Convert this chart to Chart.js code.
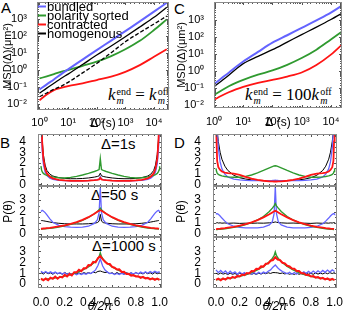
<!DOCTYPE html>
<html>
<head>
<meta charset="utf-8">
<script src="https://cdn.jsdelivr.net/npm/chart.js@4.4.1/dist/chart.umd.min.js"></script>
<style>
body { margin: 0; background: #fff; }
#fig { position: relative; width: 344px; height: 313px; overflow: hidden; font-family: "Liberation Sans", Arial, sans-serif; }
#fig canvas { position: absolute; }
.lab { position: absolute; font-size: 15px; line-height: 1; }
.dl { position: absolute; font-size: 15px; line-height: 1; white-space: nowrap; }
.k { position: absolute; font-family: "Liberation Serif", "DejaVu Serif", serif; font-size: 17px; line-height: 1; white-space: nowrap; }
.ss { display: inline-flex; flex-direction: column; font-size: 10px; line-height: 9px; vertical-align: 5px; margin-left: 1px; }
</style>
</head>
<body>
<div id="fig">
  <div class="lab" style="left:1px;top:0px">A</div>
  <div class="lab" style="left:174px;top:1px">C</div>
  <div class="lab" style="left:0px;top:135px">B</div>
  <div class="lab" style="left:174px;top:135px">D</div>
  <div class="dl" style="left:101px;top:136px">Δ=1s</div>
  <div class="dl" style="left:91px;top:187px">Δ=50 s</div>
  <div class="dl" style="left:92px;top:238px">Δ=1000 s</div>
  <div class="k" style="left:108px;top:86px"><i>k</i><span class="ss"><span>end</span><i>m</i></span> = <i>k</i><span class="ss"><span>off</span><i>m</i></span></div>
  <div class="k" style="left:245px;top:86px"><i>k</i><span class="ss"><span>end</span><i>m</i></span> = 100<i>k</i><span class="ss"><span>off</span><i>m</i></span></div>
</div>
<script>
// ---- MSD panels (A: k_end = k_off, C: k_end = 100 k_off) ----
let tau = [1, 1.8, 3.2, 5.6, 10, 32, 100, 320, 1000, 3200, 10000, 28000]
let bundledA = [0.072, 0.145, 0.28, 0.56, 1.1, 4.1, 15, 54, 195, 720, 2700, 9100]
let sortedA = [0.32, 0.43, 0.58, 0.79, 1.0, 1.78, 3.1, 6.6, 16.6, 52, 224, 955]
let contractedA = [0.017, 0.037, 0.066, 0.089, 0.115, 0.166, 0.26, 0.41, 0.79, 1.95, 6.0, 16.6]
let homogA = [0.043, 0.087, 0.166, 0.32, 0.58, 2.1, 7.6, 26, 91, 340, 1260, 4900]
let homogDashA = [0.027, 0.045, 0.074, 0.11, 0.19, 0.68, 2.45, 10.5, 46, 160, 510, 1500]

let bundledC = [0.166, 0.37, 0.79, 1.7, 3.6, 13.2, 46, 126, 347, 955, 2700, 8300]
let sortedC = [0.039, 0.071, 0.126, 0.2, 0.3, 0.6, 1.07, 2.3, 5.75, 17.8, 71, 250]
let contractedC = [0.02, 0.035, 0.056, 0.083, 0.117, 0.2, 0.3, 0.47, 0.81, 2.24, 9.1, 45]
let homogC = [0.117, 0.26, 0.56, 1.26, 2.7, 7.2, 17.8, 50, 138, 380, 1070, 2900]

let legendNames = ["bundled", "polarity sorted", "contracted", "homogenous"]

// ---- angle distributions P(theta) ----
let theta = [0, 0.005, 0.01, 0.02, 0.035, 0.05, 0.075, 0.1, 0.15, 0.2, 0.25, 0.3, 0.35, 0.4, 0.45, 0.475, 0.49, 0.5,
             0.51, 0.525, 0.55, 0.6, 0.65, 0.7, 0.75, 0.8, 0.85, 0.9, 0.925, 0.95, 0.965, 0.98, 0.99, 0.995, 1]
let thetaN = [0, 0.02, 0.04, 0.06, 0.08, 0.1, 0.12, 0.14, 0.16, 0.18, 0.2, 0.22, 0.24, 0.26, 0.28, 0.3, 0.32, 0.34, 0.36, 0.38,
              0.4, 0.42, 0.44, 0.46, 0.48, 0.5, 0.52, 0.54, 0.56, 0.58, 0.6, 0.62, 0.64, 0.66, 0.68, 0.7, 0.72, 0.74, 0.76, 0.78,
              0.8, 0.82, 0.84, 0.86, 0.88, 0.9, 0.92, 0.94, 0.96, 0.98, 1]
let thetaTicks = [0, 0.05, 0.1, 0.15, 0.2, 0.25, 0.3, 0.35, 0.4, 0.45, 0.5, 0.55, 0.6, 0.65, 0.7, 0.75, 0.8, 0.85, 0.9, 0.95, 1]
let pTicks = [0, 0.5, 1, 1.5, 2, 2.5, 3, 3.5, 4]

// B, delta = 1 s
let b1Bundled = [6, 4.6, 3.2, 1.9, 1.15, 0.82, 0.58, 0.47, 0.38, 0.35, 0.33, 0.33, 0.34, 0.36, 0.4, 0.44, 0.5, 0.72, 0.5, 0.44, 0.4, 0.36, 0.34, 0.33, 0.33, 0.35, 0.38, 0.47, 0.58, 0.82, 1.15, 1.9, 3.2, 4.6, 6]
let b1Homog = [6, 5.2, 4.2, 2.8, 1.8, 1.3, 0.95, 0.78, 0.63, 0.56, 0.53, 0.53, 0.55, 0.6, 0.68, 0.74, 0.8, 1.05, 0.8, 0.74, 0.68, 0.6, 0.55, 0.53, 0.53, 0.56, 0.63, 0.78, 0.95, 1.3, 1.8, 2.8, 4.2, 5.2, 6]
let b1Contracted = [6, 5.5, 4.0, 2.4, 1.45, 1.02, 0.72, 0.56, 0.43, 0.37, 0.34, 0.33, 0.33, 0.35, 0.39, 0.43, 0.47, 0.6, 0.47, 0.43, 0.39, 0.35, 0.33, 0.33, 0.34, 0.37, 0.43, 0.56, 0.72, 1.02, 1.45, 2.4, 4.0, 5.5, 6]
let b1Sorted = [1.7, 1.35, 1.18, 1.02, 0.92, 0.85, 0.76, 0.7, 0.62, 0.6, 0.65, 0.75, 0.88, 1.03, 1.2, 1.3, 1.38, 2.4, 1.38, 1.3, 1.2, 1.03, 0.88, 0.75, 0.65, 0.6, 0.62, 0.7, 0.76, 0.85, 0.92, 1.02, 1.18, 1.35, 1.7]
// B, delta = 50 s
let b2Bundled = [2.0, 2.05, 2.1, 2.05, 1.9, 1.7, 1.35, 1.05, 0.78, 0.66, 0.62, 0.6, 0.62, 0.7, 0.95, 1.25, 1.9, 4.1, 1.9, 1.25, 0.95, 0.7, 0.62, 0.6, 0.62, 0.66, 0.78, 1.05, 1.35, 1.7, 1.9, 2.05, 2.1, 2.05, 2.0]
let b2Homog = [1.2, 1.2, 1.2, 1.18, 1.15, 1.12, 1.07, 1.02, 0.96, 0.92, 0.9, 0.9, 0.9, 0.92, 0.97, 1.02, 1.15, 1.75, 1.15, 1.02, 0.97, 0.92, 0.9, 0.9, 0.9, 0.92, 0.96, 1.02, 1.07, 1.12, 1.15, 1.18, 1.2, 1.2, 1.2]
let b2Sorted = [0.45, 0.45, 0.46, 0.47, 0.48, 0.5, 0.52, 0.55, 0.63, 0.73, 0.86, 1.02, 1.22, 1.47, 1.8, 2.0, 2.15, 2.3, 2.15, 2.0, 1.8, 1.47, 1.22, 1.02, 0.86, 0.73, 0.63, 0.55, 0.52, 0.5, 0.48, 0.47, 0.46, 0.45, 0.45]
let b2Contracted = [0.48, 0.48, 0.49, 0.5, 0.51, 0.53, 0.56, 0.6, 0.68, 0.78, 0.9, 1.06, 1.26, 1.5, 1.8, 1.97, 2.07, 2.12, 2.07, 1.97, 1.8, 1.5, 1.26, 1.06, 0.9, 0.78, 0.68, 0.6, 0.56, 0.53, 0.51, 0.5, 0.49, 0.48, 0.48]
// B, delta = 1000 s
let b3Sorted = [0.42, 0.42, 0.43, 0.44, 0.45, 0.47, 0.5, 0.54, 0.62, 0.73, 0.87, 1.05, 1.28, 1.58, 1.98, 2.25, 2.5, 2.85, 2.5, 2.25, 1.98, 1.58, 1.28, 1.05, 0.87, 0.73, 0.62, 0.54, 0.5, 0.47, 0.45, 0.44, 0.43, 0.42, 0.42]
let b3Contracted = [0.52, 0.36, 0.51, 0.36, 0.59, 0.49, 0.69, 0.5, 0.67, 0.62, 0.86, 0.71, 0.92, 0.8, 1.09, 1.08, 1.31, 1.19, 1.44, 1.44,
                    1.74, 1.72, 2.03, 1.98, 2.37, 2.55, 2.28, 2.05, 1.86, 1.84, 1.58, 1.5, 1.33, 1.36, 1.12, 1.13, 0.93, 0.94, 0.78, 0.82,
                    0.7, 0.72, 0.58, 0.66, 0.52, 0.57, 0.44, 0.53, 0.4, 0.5, 0.38]
let b3Bundled = [1.18, 1.02, 1.15, 1.0, 1.12, 0.98, 1.1, 0.96, 1.06, 0.92, 1.04, 0.9, 1.0, 0.88, 0.98, 0.86, 0.97, 0.88, 0.99, 0.9,
                 1.02, 0.96, 1.12, 1.3, 1.7, 2.3, 1.65, 1.28, 1.1, 0.97, 1.0, 0.88, 0.98, 0.87, 0.99, 0.9, 1.01, 0.89, 1.03, 0.92,
                 1.06, 0.95, 1.1, 0.98, 1.13, 1.0, 1.16, 1.03, 1.18, 1.05, 1.15]
let b3Homog = [1.05, 0.92, 1.08, 0.95, 1.03, 0.9, 1.06, 0.94, 1.02, 0.9, 1.07, 0.93, 1.01, 0.91, 1.05, 0.95, 1.03, 0.92, 1.06, 0.97,
               1.05, 0.98, 1.1, 1.04, 1.16, 1.2, 1.12, 1.06, 1.1, 0.97, 1.04, 0.92, 1.06, 0.94, 1.02, 0.9, 1.05, 0.95, 1.03, 0.91,
               1.06, 0.94, 1.02, 0.93, 1.07, 0.95, 1.04, 0.92, 1.06, 0.95, 1.04]

// D, delta = 1 s
let d1Bundled = [6, 6, 5.0, 3.4, 2.1, 1.45, 0.95, 0.7, 0.5, 0.42, 0.38, 0.36, 0.35, 0.35, 0.36, 0.37, 0.38, 0.4, 0.38, 0.37, 0.36, 0.35, 0.35, 0.36, 0.38, 0.42, 0.5, 0.7, 0.95, 1.45, 2.1, 3.4, 5.0, 6, 6]
let d1Homog = [6, 5.6, 5.0, 4.0, 3.0, 2.35, 1.7, 1.3, 0.85, 0.62, 0.5, 0.42, 0.38, 0.36, 0.35, 0.35, 0.35, 0.36, 0.35, 0.35, 0.35, 0.36, 0.38, 0.42, 0.5, 0.62, 0.85, 1.3, 1.7, 2.35, 3.0, 4.0, 5.0, 5.6, 6]
let d1Contracted = [6, 4.0, 2.2, 1.6, 1.35, 1.2, 1.1, 1.05, 1.0, 0.88, 0.7, 0.53, 0.42, 0.34, 0.29, 0.28, 0.27, 0.27, 0.27, 0.28, 0.29, 0.34, 0.42, 0.53, 0.7, 0.88, 1.0, 1.05, 1.1, 1.2, 1.35, 1.6, 2.2, 4.0, 6]
let d1Sorted = [1.5, 1.2, 1.05, 0.93, 0.85, 0.8, 0.74, 0.7, 0.66, 0.67, 0.75, 0.88, 1.07, 1.3, 1.55, 1.66, 1.72, 1.74, 1.72, 1.66, 1.55, 1.3, 1.07, 0.88, 0.75, 0.67, 0.66, 0.7, 0.74, 0.8, 0.85, 0.93, 1.05, 1.2, 1.5]
// D, delta = 50 s
let d2Bundled = [1.75, 1.8, 1.8, 1.75, 1.6, 1.42, 1.15, 0.92, 0.7, 0.6, 0.56, 0.55, 0.56, 0.62, 0.82, 1.1, 1.8, 4.2, 1.8, 1.1, 0.82, 0.62, 0.56, 0.55, 0.56, 0.6, 0.7, 0.92, 1.15, 1.42, 1.6, 1.75, 1.8, 1.8, 1.75]
let d2Homog = [1.05, 1.0, 1.02, 0.98, 1.0, 0.97, 0.99, 0.96, 0.98, 0.95, 0.97, 0.96, 0.98, 0.97, 1.0, 1.02, 1.05, 1.08, 1.05, 1.02, 1.0, 0.97, 0.98, 0.96, 0.97, 0.95, 0.98, 0.96, 0.99, 0.97, 1.0, 0.98, 1.02, 1.0, 1.05]
let d2Sorted = [0.4, 0.4, 0.41, 0.42, 0.43, 0.45, 0.48, 0.52, 0.6, 0.7, 0.84, 1.02, 1.25, 1.56, 2.0, 2.3, 2.5, 2.7, 2.5, 2.3, 2.0, 1.56, 1.25, 1.02, 0.84, 0.7, 0.6, 0.52, 0.48, 0.45, 0.43, 0.42, 0.41, 0.4, 0.4]
let d2Contracted = [0.45, 0.45, 0.46, 0.47, 0.48, 0.5, 0.53, 0.57, 0.65, 0.75, 0.88, 1.04, 1.24, 1.48, 1.76, 1.92, 2.02, 2.06, 2.02, 1.92, 1.76, 1.48, 1.24, 1.04, 0.88, 0.75, 0.65, 0.57, 0.53, 0.5, 0.48, 0.47, 0.46, 0.45, 0.45]
// D, delta = 1000 s
let d3Sorted = [0.4, 0.4, 0.41, 0.42, 0.43, 0.45, 0.48, 0.52, 0.6, 0.71, 0.86, 1.05, 1.3, 1.62, 2.05, 2.35, 2.6, 2.95, 2.6, 2.35, 2.05, 1.62, 1.3, 1.05, 0.86, 0.71, 0.6, 0.52, 0.48, 0.45, 0.43, 0.42, 0.41, 0.4, 0.4]
let d3Contracted = [0.38, 0.5, 0.35, 0.52, 0.42, 0.6, 0.5, 0.67, 0.58, 0.75, 0.7, 0.88, 0.82, 1.02, 0.98, 1.2, 1.18, 1.4, 1.38, 1.62,
                    1.6, 1.86, 1.88, 2.12, 2.2, 2.45, 2.25, 2.2, 1.95, 1.9, 1.68, 1.62, 1.42, 1.4, 1.2, 1.2, 1.0, 1.0, 0.84, 0.86,
                    0.7, 0.74, 0.6, 0.65, 0.5, 0.58, 0.44, 0.52, 0.38, 0.48, 0.36]
let d3Bundled = [1.3, 1.05, 1.25, 1.02, 1.2, 0.95, 1.18, 0.98, 1.12, 0.9, 1.1, 0.92, 1.05, 0.88, 1.04, 0.9, 1.06, 0.92, 1.08, 0.95,
                 1.1, 1.0, 1.18, 1.3, 1.55, 1.75, 1.5, 1.3, 1.15, 1.05, 0.95, 1.08, 0.9, 1.06, 0.92, 1.1, 0.95, 1.12, 0.98, 1.16,
                 1.0, 1.2, 1.02, 1.22, 1.05, 1.25, 1.08, 1.28, 1.1, 1.3, 1.15]
let d3Homog = [1.0, 0.9, 1.02, 0.92, 0.98, 0.88, 1.0, 0.9, 0.97, 0.87, 1.0, 0.9, 0.96, 0.88, 0.99, 0.9, 0.98, 0.89, 1.0, 0.92,
               1.02, 0.95, 1.04, 0.98, 1.06, 1.05, 1.03, 0.97, 1.02, 0.93, 1.0, 0.9, 0.98, 0.88, 1.01, 0.9, 0.97, 0.89, 1.0, 0.91,
               0.98, 0.9, 1.02, 0.92, 1.0, 0.93, 1.04, 0.95, 1.05, 0.97, 1.06]

const FONT = '"Liberation Sans", Arial, sans-serif'
const BLUE = '#6464ff', GREEN = '#2f9a2f', RED = '#ff1414', BLACK = '#000000'
const SUP = {'-': '\u207b', '0': '\u2070', '1': '\u00b9', '2': '\u00b2', '3': '\u00b3', '4': '\u2074'}
const fig = document.getElementById('fig')

function pts(xs, ys) { return xs.map((x, i) => ({x: x, y: ys[i]})) }

function curve(label, xs, ys, color, width, dash, smooth) {
  return {
    label: label, data: pts(xs, ys), borderColor: color, borderWidth: width,
    borderDash: dash || [], pointRadius: 0, fill: false, tension: 0,
    cubicInterpolationMode: smooth ? 'monotone' : 'default'
  }
}

function powLabel(v, maxExp) {
  let e = Math.log10(v)
  if (Math.abs(e - Math.round(e)) > 1e-6 || Math.round(e) > maxExp) return ''
  return '10' + String(Math.round(e)).split('').map(c => SUP[c]).join('')
}

// box around the plot area and small inward ticks on all four sides
const frame = {
  id: 'frame',
  afterDatasetsDraw(chart) {
    let {ctx, chartArea: a} = chart
    let sx = chart.scales.x, sy = chart.scales.y
    ctx.save()
    ctx.strokeStyle = '#555'
    ctx.lineWidth = 1
    ctx.beginPath()
    sx.ticks.forEach(t => {
      let p = Math.round(sx.getPixelForValue(t.value)) + 0.5
      if (p <= a.left + 1 || p >= a.right - 1) return
      let len = t.label ? 3 : 2
      ctx.moveTo(p, a.bottom); ctx.lineTo(p, a.bottom - len)
      ctx.moveTo(p, a.top); ctx.lineTo(p, a.top + len)
    })
    sy.ticks.forEach(t => {
      let p = Math.round(sy.getPixelForValue(t.value)) + 0.5
      if (p <= a.top + 1 || p >= a.bottom - 1) return
      let len = t.label ? 3 : 2
      ctx.moveTo(a.left, p); ctx.lineTo(a.left + len, p)
      ctx.moveTo(a.right, p); ctx.lineTo(a.right - len, p)
    })
    ctx.stroke()
    ctx.strokeStyle = '#8a8a8a'
    ctx.strokeRect(Math.round(a.left) + 0.5, Math.round(a.top) + 0.5,
                   Math.round(a.right - a.left) - 1, Math.round(a.bottom - a.top) - 1)
    ctx.restore()
  }
}

// legend drawn inside the top-left corner of panel A
const insideLegend = {
  id: 'insideLegend',
  afterDraw(chart) {
    let {ctx, chartArea: a} = chart
    let colors = [BLUE, GREEN, RED, BLACK]
    ctx.save()
    ctx.font = '13px ' + FONT
    ctx.textBaseline = 'middle'
    legendNames.forEach((name, i) => {
      let y = a.top + 4.5 + i * 9
      ctx.strokeStyle = colors[i]
      ctx.lineWidth = 2
      ctx.beginPath(); ctx.moveTo(a.left + 1, y); ctx.lineTo(a.left + 9, y); ctx.stroke()
      ctx.fillStyle = '#000'
      ctx.fillText(name, a.left + 10, y + 0.5)
    })
    ctx.restore()
  }
}

function makeChart(area, o) {
  let w = o.yW + (area.r - area.l) + o.padR
  let h = o.padT + (area.b - area.t) + o.xH + o.padB
  let c = document.createElement('canvas')
  c.width = w; c.height = h
  c.style.left = (area.l - o.yW) + 'px'
  c.style.top = (area.t - o.padT) + 'px'
  c.style.width = w + 'px'; c.style.height = h + 'px'
  fig.appendChild(c)
  // pin the axis sizes so the plot area lands where the reference has it
  o.x.afterFit = s => { s.height = o.xH; s.paddingLeft = 0; s.paddingRight = 0; s.paddingTop = 0; s.paddingBottom = 0 }
  o.y.afterFit = s => { s.width = o.yW; s.paddingLeft = 0; s.paddingRight = 0; s.paddingTop = 0; s.paddingBottom = 0 }
  return new Chart(c.getContext('2d'), {
    type: 'line',
    data: {datasets: o.datasets},
    options: {
      responsive: false, animation: false, devicePixelRatio: 1,
      layout: {autoPadding: false, padding: {left: 0, top: o.padT, right: o.padR, bottom: o.padB}},
      plugins: {legend: {display: false}, tooltip: {enabled: false}},
      scales: {x: o.x, y: o.y}
    },
    plugins: [frame].concat(o.plugins || [])
  })
}

function logX(min, max, tickPad, titlePad) {
  return {
    type: 'logarithmic', min: min, max: max,
    grid: {display: false}, border: {display: false},
    ticks: {autoSkip: false, maxRotation: 0, padding: tickPad, color: '#000', font: {family: FONT, size: 11}, callback: v => powLabel(v, 4)},
    title: {display: true, text: 'Δ (s)', color: '#000', font: {family: FONT, size: 12, lineHeight: 1}, padding: {top: 0, bottom: titlePad}}
  }
}

function logY(min, max, titlePad) {
  return {
    type: 'logarithmic', min: min, max: max,
    grid: {display: false}, border: {display: false},
    ticks: {autoSkip: false, padding: 2, color: '#000', font: {family: FONT, size: 11}, callback: v => powLabel(v, 3)},
    title: {display: true, text: 'MSD(Δ)(μm²)', color: '#000', font: {family: FONT, size: 11, lineHeight: 1}, padding: {top: titlePad, bottom: 0}}
  }
}

function thetaAxis(labels) {
  return {
    type: 'linear', min: -0.025, max: 1.02,
    afterBuildTicks: s => { s.ticks = thetaTicks.map(v => ({value: v})) },
    grid: {display: false}, border: {display: false},
    ticks: {display: labels, autoSkip: false, maxRotation: 0, padding: -1, color: '#000', font: {family: FONT, size: 12},
      callback: v => (Math.abs(v * 5 - Math.round(v * 5)) < 1e-6 ? v.toFixed(1) : '')},
    title: {display: labels, text: 'θ/2π', color: '#000', font: {family: FONT, size: 12, style: 'italic', lineHeight: 1}, padding: {top: 0, bottom: 0}}
  }
}

function pAxis(min, max, topLabel, title, titlePad) {
  return {
    type: 'linear', min: min, max: max,
    afterBuildTicks: s => { s.ticks = pTicks.map(v => ({value: v})) },
    grid: {display: false}, border: {display: false},
    ticks: {autoSkip: false, padding: 4, color: '#000', font: {family: FONT, size: 12},
      callback: v => (Number.isInteger(v) && v <= topLabel ? String(v) : '')},
    title: {display: title, text: 'P(θ)', color: '#000', font: {family: FONT, size: 12, lineHeight: 1}, padding: {top: titlePad, bottom: 0}}
  }
}

// panel A
makeChart({l: 37, t: 2, r: 169, b: 110}, {
  yW: 37, xH: 22, padT: 2, padR: 3, padB: 0,
  x: logX(0.82, 33500, -2, 2), y: logY(0.0045, 10000, 2.5),
  datasets: [
    curve('bundled', tau, bundledA, BLUE, 2, null, true),
    curve('homogenous', tau, homogA, BLACK, 1.3, null, true),
    curve('', tau, homogDashA, BLACK, 1.3, [4, 2], true),
    curve('polarity sorted', tau, sortedA, GREEN, 1.8, null, true),
    curve('contracted', tau, contractedA, RED, 1.8, null, true)
  ],
  plugins: [insideLegend]
})

// panel C
makeChart({l: 214, t: 2, r: 342, b: 108}, {
  yW: 42, xH: 22, padT: 2, padR: 2, padB: 0,
  x: logX(1, 24000, -0.5, 1.5), y: logY(0.0066, 11400, 4),
  datasets: [
    curve('bundled', tau, bundledC, BLUE, 2, null, true),
    curve('homogenous', tau, homogC, BLACK, 1.3, null, true),
    curve('polarity sorted', tau, sortedC, GREEN, 1.8, null, true),
    curve('contracted', tau, contractedC, RED, 1.8, null, true)
  ]
})

function distSets(bundled, sorted, contracted, homog, xs, redW) {
  return [
    curve('contracted', xs, contracted, RED, redW),
    curve('polarity sorted', theta, sorted, GREEN, 1.4),
    curve('bundled', xs, bundled, BLUE, 1.3),
    curve('homogenous', xs, homog, BLACK, 1)
  ]
}

// panels B and D: three stacked sub-plots each
let cols = [
  {l: 38, r: 162, yW: 38, padR: 10, tp: 3,
   sets: [[b1Bundled, b1Sorted, b1Contracted, b1Homog], [b2Bundled, b2Sorted, b2Contracted, b2Homog], [b3Bundled, b3Sorted, b3Contracted, b3Homog]]},
  {l: 213, r: 337, yW: 41, padR: 7, tp: 4,
   sets: [[d1Bundled, d1Sorted, d1Contracted, d1Homog], [d2Bundled, d2Sorted, d2Contracted, d2Homog], [d3Bundled, d3Sorted, d3Contracted, d3Homog]]}
]
let rows = [
  {t: 134, b: 186, min: -0.15, max: 4.7, top: 4},
  {t: 186, b: 237, min: -0.25, max: 4.25, top: 3},
  {t: 237, b: 288, min: -0.35, max: 4.3, top: 3}
]
cols.forEach(col => {
  rows.forEach((row, i) => {
    let s = col.sets[i]
    let last = i === 2
    makeChart({l: col.l, t: row.t, r: col.r, b: row.b}, {
      yW: col.yW, xH: last ? 25 : 0, padT: 6, padR: col.padR, padB: last ? 0 : 6,
      x: thetaAxis(last),
      y: pAxis(row.min, row.max, row.top, i === 1, col.tp),
      datasets: distSets(s[0], s[1], s[2], s[3], last ? thetaN : theta, last ? 2 : 1.8)
    })
  })
})
</script>
</body>
</html>
